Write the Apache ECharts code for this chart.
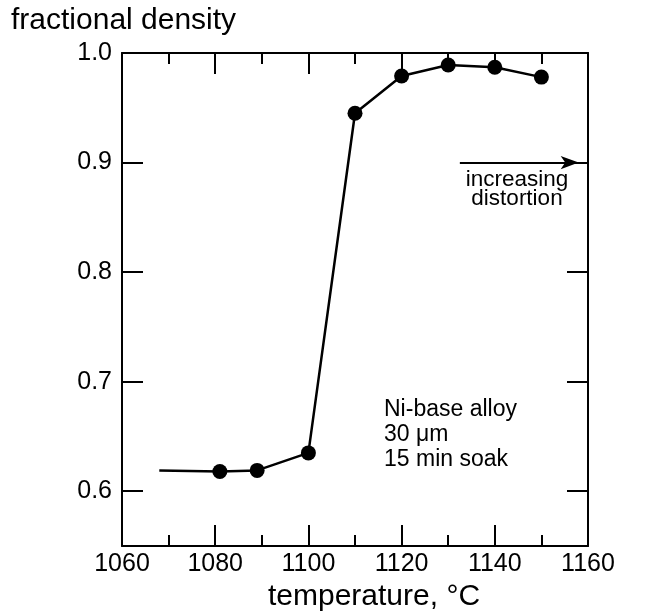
<!DOCTYPE html>
<html>
<head>
<meta charset="utf-8">
<script src="https://cdn.jsdelivr.net/npm/echarts@6/dist/echarts.min.js"></script>
<style>
  html, body { margin: 0; padding: 0; background: #fff; }
  #chart { width: 650px; height: 612px; }
</style>
</head>
<body>
<div id="chart"></div>
<script>
  // temperature (°C) and fractional density
  var temps = [1068, 1081, 1089, 1100, 1110, 1120, 1130, 1140, 1150];
  var density = [0.619, 0.618, 0.619, 0.635, 0.945, 0.979, 0.989, 0.987, 0.978];
  var yTicks = [0.6, 0.7, 0.8, 0.9, 1.0];
  // arrow "increasing distortion" at density 0.9
  var arrowFrom = [1132.5, 0.9];
  var arrowTo = [1158, 0.9];

  var font = '"Liberation Sans", Arial, Helvetica, sans-serif';

  var pts = temps.map(function (t, i) {
    var p = { value: [t, density[i]] };
    if (i === 0) p.symbol = 'none'; // line starts without a marker
    return p;
  });

  var xCommon = {
    type: 'value', min: 1060, max: 1160, interval: 20,
    splitLine: { show: false },
    axisLine: { show: true, onZero: false, lineStyle: { color: '#000', width: 2 } },
    axisTick: { show: true, inside: true, length: 21, lineStyle: { color: '#000', width: 2 } },
    minorTick: { show: true, splitNumber: 2, length: 11, lineStyle: { color: '#000', width: 2 } }
  };
  var yCommon = {
    type: 'value', min: 0.55, max: 1.0,
    splitLine: { show: false },
    axisLine: { show: true, onZero: false, lineStyle: { color: '#000', width: 2 } },
    axisTick: { show: true, inside: true, length: 21, customValues: yTicks, lineStyle: { color: '#000', width: 2 } }
  };

  var chart = echarts.init(document.getElementById('chart'));
  chart.setOption({
    animation: false,
    backgroundColor: '#fff',
    grid: { left: 122, right: 62, top: 53, bottom: 66, outerBoundsMode: 'none', containLabel: false },
    xAxis: [
      Object.assign({}, xCommon, {
        position: 'bottom',
        name: 'temperature, °C', nameLocation: 'middle', nameGap: 30,
        nameTextStyle: { color: '#000', fontSize: 30, fontFamily: font, padding: [0, 0, 0, 38] },
        axisLabel: {
          color: '#000', fontSize: 25, fontFamily: font, margin: 6,
          formatter: function (v) { return String(v); }
        }
      }),
      Object.assign({}, xCommon, { position: 'top', axisLabel: { show: false } })
    ],
    yAxis: [
      Object.assign({}, yCommon, {
        position: 'left',
        axisLabel: {
          color: '#000', fontSize: 25, fontFamily: font, margin: 10,
          customValues: yTicks,
          formatter: function (v) { return v.toFixed(1); }
        }
      }),
      Object.assign({}, yCommon, { position: 'right', axisLabel: { show: false } })
    ],
    graphic: [
      { type: 'text', left: 11, top: 6,
        style: { text: 'fractional density', fill: '#000', fontSize: 30, fontFamily: font } },
      { type: 'text', left: 384, top: 397,
        style: { text: 'Ni-base alloy\n30 \u03bcm\n15 min soak', fill: '#000', fontSize: 23, lineHeight: 25, fontFamily: font } },
      { type: 'text', x: 517, y: 170,
        style: { text: 'increasing\ndistortion', fill: '#000', fontSize: 22.5, lineHeight: 19, align: 'center', fontFamily: font } }
    ],
    series: [{
      type: 'line',
      data: pts,
      symbol: 'circle',
      symbolSize: 15,
      itemStyle: { color: '#000' },
      lineStyle: { color: '#000', width: 2.5 },
      markLine: {
        silent: true,
        symbol: ['none', 'arrow'],
        symbolSize: [10, 18],
        label: { show: false },
        lineStyle: { color: '#000', width: 2, type: 'solid' },
        data: [[{ coord: arrowFrom }, { coord: arrowTo }]]
      }
    }]
  });
</script>
</body>
</html>
